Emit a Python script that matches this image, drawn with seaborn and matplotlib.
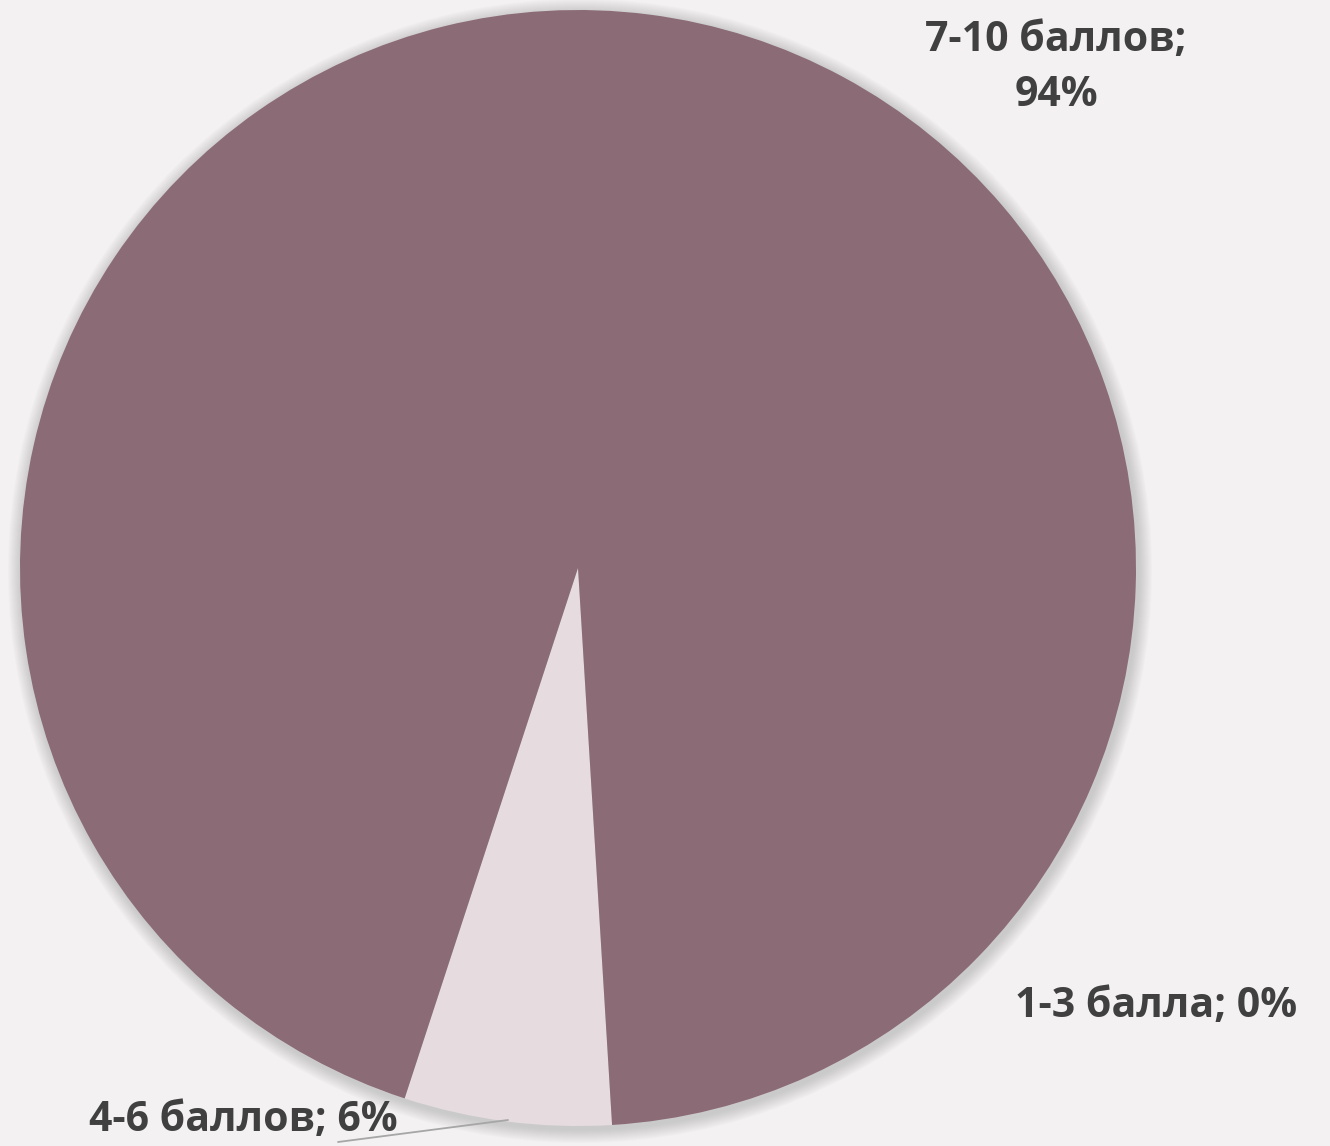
import matplotlib
matplotlib.use("Agg")
import matplotlib.pyplot as plt
import seaborn as sns
from matplotlib.patches import Circle

categories = ["1-3 балла", "4-6 баллов", "7-10 баллов"]
values = [0, 6, 94]
label_texts = ["1-3 балла; 0%", "4-6 баллов; 6%", "7-10 баллов;\n94%"]

sns.set_theme(style="white")
plt.rcParams['font.family'] = ['Open Sans', 'DejaVu Sans']

BG = "#F3F1F2"
colors = ["#8B6B75", "#E6DCE0", "#8B6B75"]
TXT = "#404040"

W, H = 1330, 1146
fig = plt.figure(figsize=(W / 100, H / 100), dpi=100, facecolor=BG)
ax = fig.add_axes([0, 0, 1, 1])
ax.set_facecolor(BG)
ax.set_xlim(0, W)
ax.set_ylim(0, H)
ax.set_aspect("equal")
ax.axis("off")

cx, cy, R = 578, H - 568, 558

# soft shadow
for i in range(14):
    ax.add_patch(Circle((cx + 2, cy - 3), R + 14 - i, color="#9a9a9a",
                        alpha=0.035, lw=0, zorder=1))

wedges, _ = ax.pie(values, colors=colors, startangle=-86.5, counterclock=False,
                   center=(cx, cy), radius=R, frame=True,
                   wedgeprops=dict(linewidth=0, zorder=2))
ax.set_xlim(0, W)
ax.set_ylim(0, H)
ax.axis("off")

fs = 29.5
ax.text(1156, H - 1007, label_texts[0], ha="center", va="center",
        fontsize=fs, fontweight="bold", color=TXT, zorder=5)
ax.text(243, H - 1121, label_texts[1], ha="center", va="center",
        fontsize=fs, fontweight="bold", color=TXT, zorder=5)
ax.text(1056, H - 68, label_texts[2], ha="center", va="center",
        fontsize=fs, fontweight="bold", color=TXT, zorder=5, linespacing=1.45)

# leader line
ax.plot([338, 508], [H - 1142, H - 1120], color="#A6A6A6", lw=1.3, zorder=4)

fig.savefig("out.png", dpi=100, facecolor=BG)
